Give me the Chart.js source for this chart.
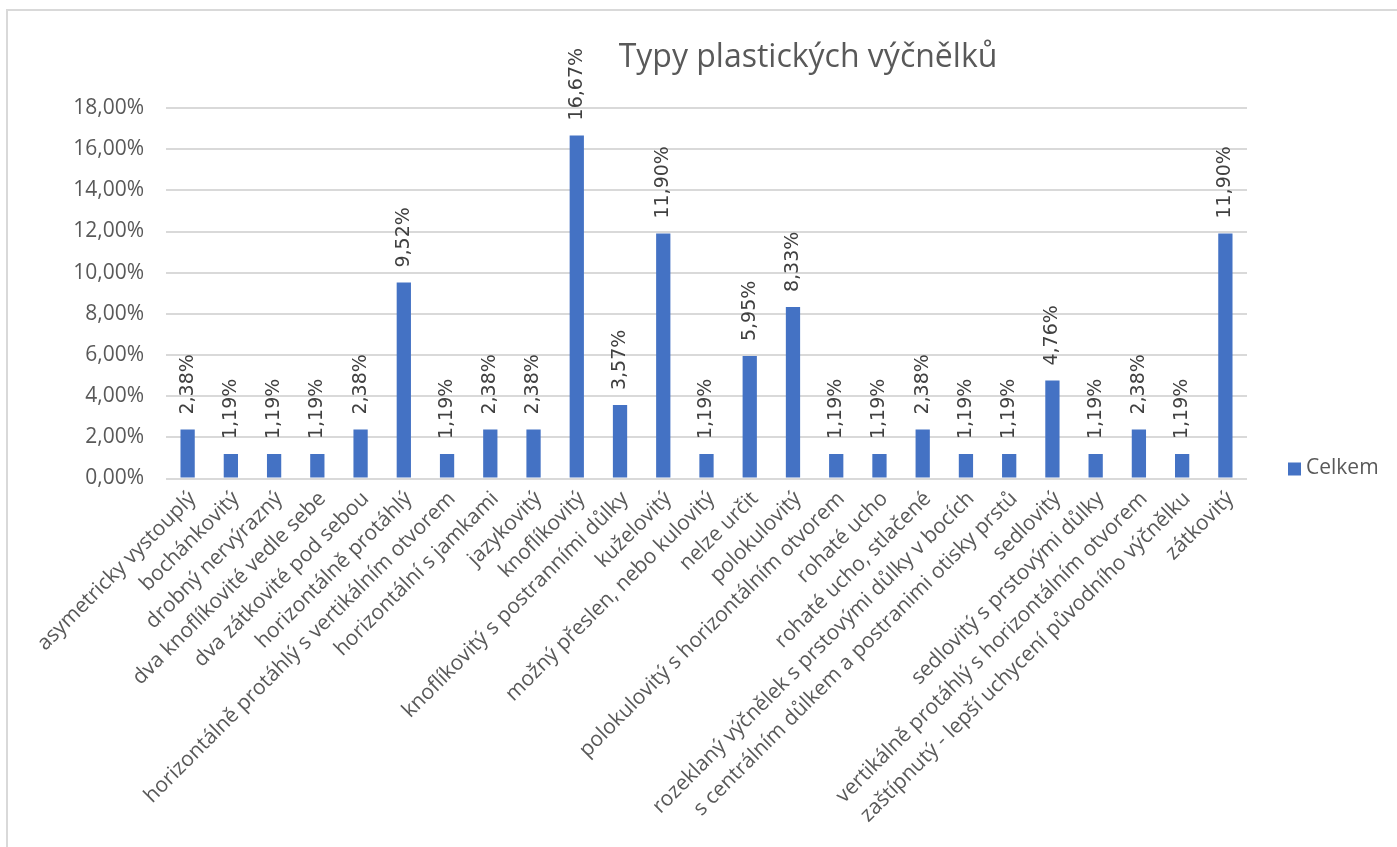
<!DOCTYPE html>
<html lang="cs">
<head>
<meta charset="utf-8">
<title>Typy plastických výčnělků</title>
<script src="https://cdn.jsdelivr.net/npm/chart.js@4.4.1/dist/chart.umd.min.js"></script>
<style>
  html, body { margin: 0; padding: 0; background: #fff; }
  #wrap { width: 1397px; height: 847px; position: relative; }
</style>
</head>
<body>
<div id="wrap"><canvas id="graf"></canvas></div>
<script>
// typy výčnělků a jejich podíl (v %)
const kategorie = [
  'asymetricky vystouplý',
  'bochánkovitý',
  'drobný nervýrazný',
  'dva knoflíkovité vedle sebe',
  'dva zátkovité pod sebou',
  'horizontálně protáhlý',
  'horizontálně protáhlý s vertikálním otvorem',
  'horizontální s jamkami',
  'jazykovitý',
  'knoflíkovitý',
  'knoflíkovitý s postranními důlky',
  'kuželovitý',
  'možný přeslen, nebo kulovitý',
  'nelze určit',
  'polokulovitý',
  'polokulovitý s horizontálním otvorem',
  'rohaté ucho',
  'rohaté ucho, stlačené',
  'rozeklaný výčnělek s prstovými důlky v bocích',
  's centrálním důlkem a postranimi otisky prstů',
  'sedlovitý',
  'sedlovitý s prstovými důlky',
  'vertikálně protáhlý s horizontálním otvorem',
  'zaštípnutý - lepší uchycení původního výčnělku',
  'zátkovitý'
];
const celkem = [
  2.38, 1.19, 1.19, 1.19, 2.38, 9.52, 1.19, 2.38, 2.38, 16.67,
  3.57, 11.90, 1.19, 5.95, 8.33, 1.19, 1.19, 2.38, 1.19, 1.19,
  4.76, 1.19, 2.38, 1.19, 11.90
];
const nadpis = 'Typy plastických výčnělků';
const nazevRady = 'Celkem';

const modra = '#4472c4';
const seda = '#595959';
const mrizka = '#d9d9d9';
const pismo = '"Open Sans", "Noto Sans", sans-serif';

const procenta = v => v.toFixed(2).replace('.', ',') + '%';

// bílé pozadí a rámeček grafu
const pozadi = {
  id: 'pozadi',
  beforeDraw(chart) {
    const c = chart.ctx;
    c.save();
    c.fillStyle = '#fff';
    c.fillRect(0, 0, chart.width, chart.height);
    c.strokeStyle = mrizka;
    c.lineWidth = 2;
    c.strokeRect(7, 10, chart.width + 10, chart.height + 10);
    c.restore();
  }
};

// popisky hodnot nad sloupci, otočené o 90°
const popisky = {
  id: 'popisky',
  afterDatasetsDraw(chart) {
    const c = chart.ctx;
    const meta = chart.getDatasetMeta(0);
    c.save();
    c.font = '19px "DejaVu Sans", sans-serif';
    c.fillStyle = '#404040';
    c.textAlign = 'left';
    c.textBaseline = 'middle';
    meta.data.forEach((bar, i) => {
      c.save();
      c.translate(bar.x, bar.y - 15);
      c.rotate(-Math.PI / 2);
      c.fillText(procenta(celkem[i]), 0, 0);
      c.restore();
    });
    c.restore();
  }
};

// nadpis a legenda vpravo
const nadpisLegenda = {
  id: 'nadpisLegenda',
  afterDraw(chart) {
    const c = chart.ctx;
    const a = chart.chartArea;
    c.save();
    c.fillStyle = seda;
    c.font = '32px ' + pismo;
    c.textAlign = 'center';
    c.textBaseline = 'alphabetic';
    c.fillText(nadpis, 808, 67);

    const ly = a.bottom - 10;
    c.fillStyle = modra;
    c.fillRect(a.right + 41, ly - 6, 13, 13);
    c.fillStyle = seda;
    c.font = '21px ' + pismo;
    c.textAlign = 'left';
    c.textBaseline = 'middle';
    c.fillText(nazevRady, a.right + 59, ly);
    c.restore();
  }
};

new Chart(document.getElementById('graf'), {
  type: 'bar',
  data: {
    labels: kategorie,
    datasets: [{
      label: nazevRady,
      data: celkem,
      backgroundColor: modra,
      borderWidth: 0,
      categoryPercentage: 1,
      barPercentage: 0.33
    }]
  },
  options: {
    responsive: true,
    maintainAspectRatio: false,
    animation: false,
    layout: { padding: { left: 0, top: 108, right: 150, bottom: 0 } },
    plugins: {
      legend: { display: false },
      title: { display: false },
      tooltip: { enabled: false }
    },
    scales: {
      x: {
        grid: { display: false },
        border: { display: false },
        ticks: {
          autoSkip: false,
          minRotation: 45,
          maxRotation: 45,
          color: seda,
          font: { family: pismo, size: 21 },
          padding: 0,
          labelOffset: 5
        },
        afterFit(scale) { scale.height = 847 - 478.5; }
      },
      y: {
        min: 0,
        max: 18,
        ticks: {
          stepSize: 2,
          color: seda,
          font: { family: pismo, size: 21 },
          padding: 22,
          callback: v => procenta(v)
        },
        grid: { color: mrizka, lineWidth: 2, drawTicks: false },
        border: { display: false },
        afterFit(scale) { scale.width = 166; }
      }
    }
  },
  plugins: [pozadi, popisky, nadpisLegenda]
});
</script>
</body>
</html>
